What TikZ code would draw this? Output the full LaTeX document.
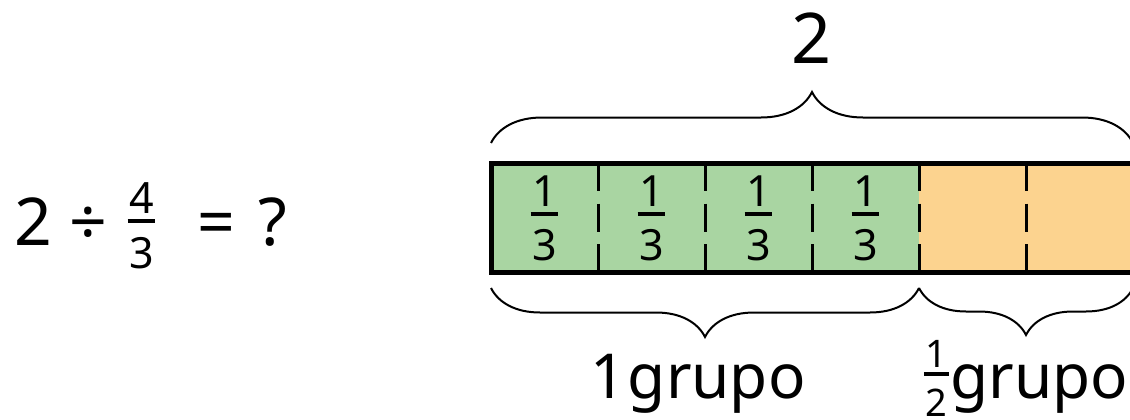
\documentclass[tikz,border=0pt]{standalone}
\usepackage{fontspec}
\setmainfont{Noto Sans}
\usepackage{tikz}
\usetikzlibrary{positioning, decorations.pathreplacing}
\definecolor{barGreen}{HTML}{A9D5A2}
\definecolor{barOrange}{HTML}{FCD38F}

% stacked fraction in the text font: numerator, bar, denominator
\newcommand{\fr}[2]{\vbox{\offinterlineskip\halign{\hfil##\hfil\cr
  #1\cr\noalign{\kern0.12em}
  \vrule width 0.65em height 0.093em depth 0pt\cr\noalign{\kern0.33em}
  #2\cr}}}

\begin{document}
\begin{tikzpicture}[x=0.5pt, y=0.5pt,
    cell/.style={minimum width=53.5pt, minimum height=54.5pt, inner sep=0pt, outer sep=0pt},
    divider/.style={line width=1.5pt, dash pattern=on 14pt off 6.25pt},
    border/.style={line width=2.5pt},
    brace/.style={decorate, line width=1pt,
      decoration={brace, amplitude=#1, raise=8pt}},
    bigtext/.style={inner sep=0pt, font=\fontsize{33}{40}\selectfont},
    labeltext/.style={inner sep=0pt, font=\fontsize{31}{38}\selectfont},
    fractext/.style={inner sep=0pt, font=\fontsize{21.5}{26}\selectfont}]
  \useasboundingbox (0,0) rectangle (1130,419);
  \clip (0,0) rectangle (1130,419);

  % the question
  \node[bigtext, anchor=base west] (dividend) at (14,174) {2 ÷};
  \node[fractext] (divisor) at (141.5,193) {\fr{4}{3}};
  \node[bigtext, anchor=base west] (answer) at (197,174) {=\hspace{0.1em} ?};

  % the tape: four thirds in green, the rest in orange
  \node[cell, fill=barGreen] (c1) at (544.5,201.5) {};
  \node[cell, fill=barGreen, right=0pt of c1] (c2) {};
  \node[cell, fill=barGreen, right=0pt of c2] (c3) {};
  \node[cell, fill=barGreen, right=0pt of c3] (c4) {};
  \node[cell, fill=barOrange, right=0pt of c4] (c5) {};
  \node[cell, fill=barOrange, right=0pt of c5] (c6) {};
  \foreach \i in {1,...,4}
    \node[fractext] (t\i) at ([yshift=-0.5pt]c\i.center) {\fr{1}{3}};
  \foreach \i in {1,...,5}
    \draw[divider] (c\i.north east) -- (c\i.south east);
  \draw[border] (c1.north west) rectangle (c6.south east);

  % braces and their labels
  \draw[brace=25.5pt, decoration={raise=10pt}] (c1.north west) -- (c6.north east)
    node[midway, bigtext, anchor=base, yshift=50pt, font=\fontsize{35}{42}\selectfont] (whole) {2};
  \draw[brace=24.5pt] (c4.south east) -- (c1.south west)
    node[midway, labeltext, anchor=base, yshift=-63pt, xshift=-3.5pt] (onegroup) {1\kern1pt grupo};
  \draw[brace=23.5pt] (c6.south east) -- (c4.south east)
    node[midway, labeltext, anchor=base, yshift=-63pt] (halfgroup)
    {{\fontsize{19}{23}\selectfont\raisebox{-9pt}{\fr{1}{2}}}\kern1pt grupo};
\end{tikzpicture}
\end{document}
